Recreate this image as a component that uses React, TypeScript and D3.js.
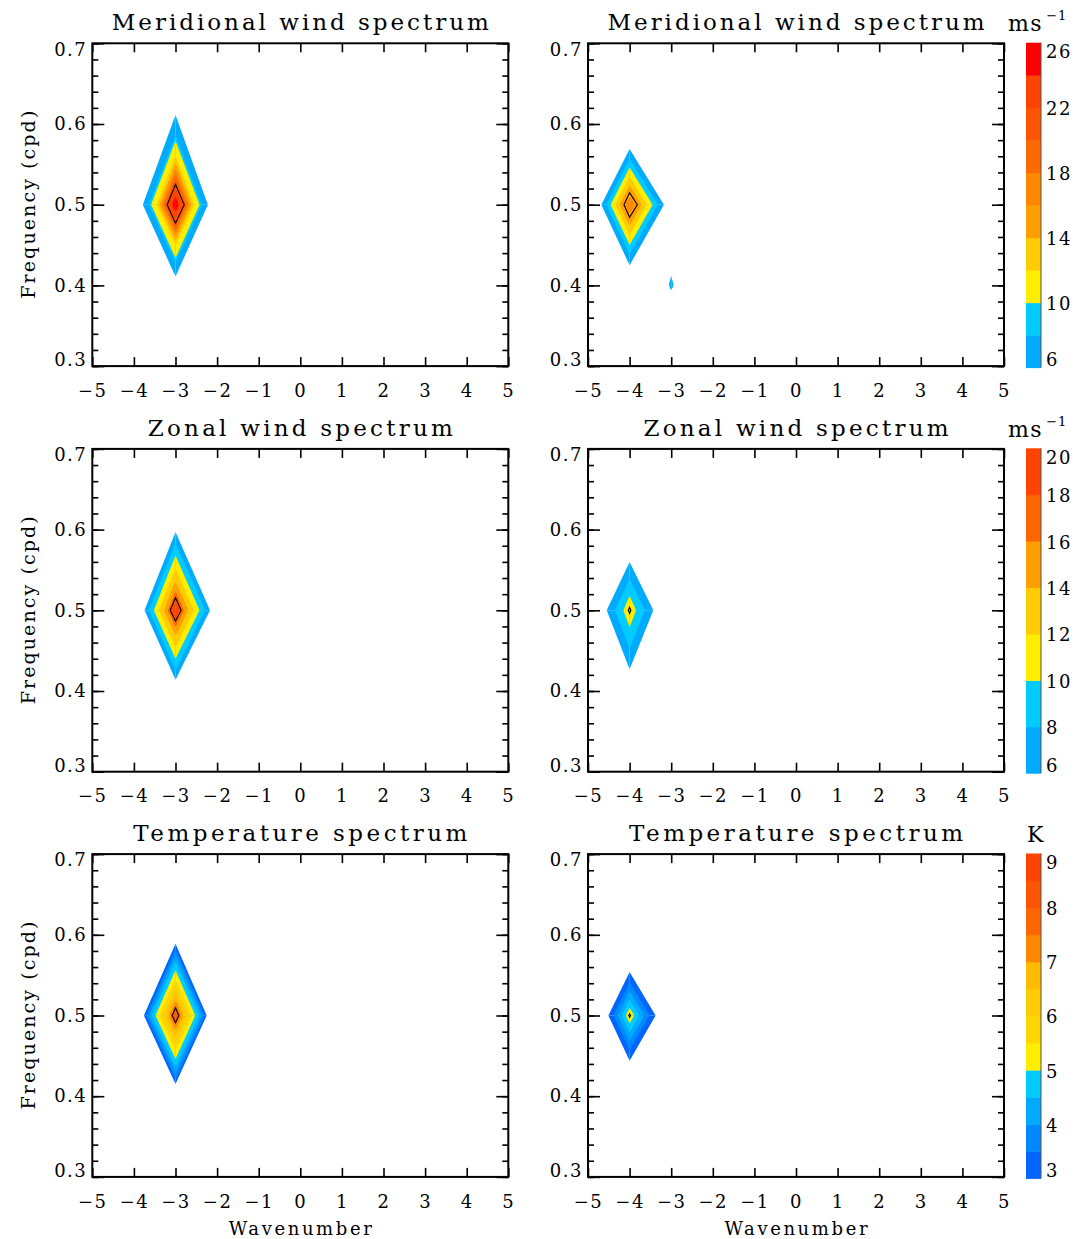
import React, { useEffect, useRef } from 'react';
import * as d3 from 'd3';

const WIDTH = 1087;
const HEIGHT = 1239;
const FONT = "'DejaVu Serif', 'Liberation Serif', serif";

// axis ticks
const wavenumberTicks = [-5, -4, -3, -2, -1, 0, 1, 2, 3, 4, 5];
const frequencyTicks = [0.3, 0.4, 0.5, 0.6, 0.7];

// colour bars: level edges (bottom -> top) and the band colours between them
const vLevels = [6, 8, 10, 12, 14, 16, 18, 20, 22, 24, 26];
const vColors = ['#00aaff', '#00ccff', '#ffee00', '#ffcc00', '#ffa000', '#ff8800', '#ff6a00', '#ff5500', '#ff4400', '#ff0000'];
const vLabels = [6, 10, 14, 18, 22, 26];

const uLevels = [6, 8, 10, 12, 14, 16, 18, 20];
const uColors = ['#00aaff', '#00ccff', '#ffee00', '#ffcc00', '#ffa000', '#ff6600', '#ff4400'];
const uLabels = [6, 8, 10, 12, 14, 16, 18, 20];

const tLevels = [3, 3.5, 4, 4.5, 5, 5.5, 6, 6.5, 7, 7.5, 8, 8.5, 9];
const tColors = ['#0066ff', '#0088ff', '#00aaff', '#00ccff', '#ffee00', '#ffd700', '#ffcc00', '#ffbb00', '#ff8800', '#ff6600', '#ff5500', '#ff4400'];
const tLabels = [3, 4, 5, 6, 7, 8, 9];

// contour reach from the spectral peak
// [level, west, east (wavenumber), north, south (cpd)]
const vLeft = [
  [6, 0.786, 0.778, 0.111, 0.089],
  [8, 0.64, 0.634, 0.086, 0.072],
  [10, 0.585, 0.579, 0.079, 0.066],
  [12, 0.45, 0.446, 0.061, 0.051],
  [14, 0.385, 0.381, 0.052, 0.0435],
  [16, 0.335, 0.332, 0.045, 0.038],
  [18, 0.29, 0.287, 0.039, 0.033],
  [20, 0.24, 0.238, 0.032, 0.027],
  [22, 0.16, 0.158, 0.0216, 0.018],
  [24, 0.08, 0.079, 0.0108, 0.009],
];
const vLeftLine = [0.2, 0.21, 0.025, 0.023];

const vRight = [
  [6, 0.68, 0.825, 0.069, 0.075],
  [8, 0.56, 0.678, 0.0566, 0.0616],
  [10, 0.457, 0.553, 0.046, 0.05],
  [12, 0.344, 0.416, 0.035, 0.038],
  [14, 0.24, 0.29, 0.024, 0.026],
  [16, 0.1, 0.121, 0.01, 0.011],
];
const vRightLine = [0.135, 0.185, 0.015, 0.0156];
// weak secondary peak at wavenumber -3, 0.4 cpd
const vRightSpot = [-3, 0.4, 6, 0.06, 0.06, 0.012, 0.006];

const uLeft = [
  [6, 0.745, 0.83, 0.097, 0.086],
  [8, 0.64, 0.71, 0.083, 0.074],
  [10, 0.52, 0.577, 0.068, 0.06],
  [12, 0.4, 0.444, 0.052, 0.046],
  [14, 0.28, 0.311, 0.036, 0.032],
  [16, 0.185, 0.205, 0.024, 0.021],
  [18, 0.1, 0.111, 0.013, 0.0115],
];
const uLeftLine = [0.127, 0.137, 0.0156, 0.0133];

const uRight = [
  [6, 0.55, 0.57, 0.06, 0.073],
  [8, 0.353, 0.367, 0.039, 0.047],
  [10, 0.151, 0.157, 0.018, 0.021],
];
const uRightLine = [0.03, 0.03, 0.0035, 0.004];

const tLeft = [
  [3, 0.76, 0.75, 0.089, 0.085],
  [3.5, 0.705, 0.698, 0.0825, 0.079],
  [4, 0.64, 0.634, 0.075, 0.0717],
  [4.5, 0.57, 0.564, 0.0667, 0.0638],
  [5, 0.48, 0.475, 0.0562, 0.0538],
  [5.5, 0.385, 0.381, 0.045, 0.0431],
  [6, 0.305, 0.302, 0.0357, 0.0342],
  [6.5, 0.225, 0.223, 0.0263, 0.0252],
  [7, 0.16, 0.158, 0.0187, 0.0179],
  [7.5, 0.105, 0.104, 0.0123, 0.0118],
  [8, 0.048, 0.0475, 0.0056, 0.0054],
];
const tLeftLine = [0.08, 0.08, 0.0095, 0.009];

const tRight = [
  [3, 0.51, 0.625, 0.054, 0.056],
  [3.5, 0.39, 0.476, 0.0413, 0.0429],
  [4, 0.29, 0.354, 0.0307, 0.0319],
  [4.5, 0.19, 0.232, 0.0201, 0.0209],
  [5, 0.09, 0.11, 0.0095, 0.0099],
];
const tRightLine = [0.02, 0.024, 0.0021, 0.0022];

const colorbars = [
  { levels: vLevels, colors: vColors, labels: vLabels, unit: 'ms', sup: '\u22121' },
  { levels: uLevels, colors: uColors, labels: uLabels, unit: 'ms', sup: '\u22121' },
  { levels: tLevels, colors: tColors, labels: tLabels, unit: 'K', sup: '' },
];

const panels = [
  { row: 0, col: 0, title: 'Meridional wind spectrum', peak: [-3, 0.5], contours: vLeft, line: vLeftLine, spots: [] },
  { row: 0, col: 1, title: 'Meridional wind spectrum', peak: [-4, 0.5], contours: vRight, line: vRightLine, spots: [vRightSpot] },
  { row: 1, col: 0, title: 'Zonal wind spectrum', peak: [-3, 0.5], contours: uLeft, line: uLeftLine, spots: [] },
  { row: 1, col: 1, title: 'Zonal wind spectrum', peak: [-4, 0.5], contours: uRight, line: uRightLine, spots: [] },
  { row: 2, col: 0, title: 'Temperature spectrum', peak: [-3, 0.5], contours: tLeft, line: tLeftLine, spots: [] },
  { row: 2, col: 1, title: 'Temperature spectrum', peak: [-4, 0.5], contours: tRight, line: tRightLine, spots: [] },
];

const titleWidths = { 'Meridional wind spectrum': 377, 'Zonal wind spectrum': 305, 'Temperature spectrum': 334 };

const App = () => {
  const svgRef = useRef(null);

  useEffect(() => {
    const svg = d3.select(svgRef.current);
    svg.selectAll('*').remove();

    svg.append('rect').attr('width', WIDTH).attr('height', HEIGHT).attr('fill', '#fff');

    const colLeft = [92.3, 588];
    const rowTop = [43.3, 448.9, 854.1];
    const plotW = 416;
    const plotH = 322.8;

    panels.forEach(p => {
      const x0 = colLeft[p.col];
      const y0 = rowTop[p.row];
      const x = d3.scaleLinear().domain([-5, 5]).range([x0, x0 + plotW]);
      const y = d3.scaleLinear().domain([0.3, 0.7]).range([y0 + plotH, y0]);
      const bar = colorbars[p.row];
      const g = svg.append('g');

      const poly = d3.line()
        .x(d => x(d[0]))
        .y(d => y(d[1]))
        .curve(d3.curveLinearClosed);
      const corners = (k, f, w, e, n, s) => [[k - w, f], [k, f + n], [k + e, f], [k, f - s]];

      // filled contour bands, outermost first; each drawn as four quadrant
      // triangles like the original cell-by-cell fill
      const fillDiamond = (k, f, w, e, n, s, color) => {
        const pts = corners(k, f, w, e, n, s);
        for (let q = 0; q < 4; q++) {
          g.append('path')
            .attr('d', poly([[k, f], pts[q], pts[(q + 1) % 4]]))
            .attr('fill', color);
        }
      };
      p.contours.forEach(([level, w, e, n, s]) => {
        fillDiamond(p.peak[0], p.peak[1], w, e, n, s, bar.colors[bar.levels.indexOf(level)]);
      });
      p.spots.forEach(([k, f, level, w, e, n, s]) => {
        fillDiamond(k, f, w, e, n, s, bar.colors[bar.levels.indexOf(level)]);
      });

      // black contour line
      const [lw, le, ln, ls] = p.line;
      g.append('path')
        .attr('d', poly(corners(p.peak[0], p.peak[1], lw, le, ln, ls)))
        .attr('fill', 'none')
        .attr('stroke', '#000')
        .attr('stroke-width', 1.1);

      // axes
      const styleAxis = sel => {
        sel.select('.domain').remove();
        sel.selectAll('line').attr('stroke', '#000').attr('stroke-width', 1.6);
        sel.attr('font-family', FONT).attr('font-size', 18);
        sel.selectAll('text').attr('fill', '#000').attr('letter-spacing', 1.5);
      };

      g.append('g')
        .attr('transform', `translate(0,${y(0.3)})`)
        .call(d3.axisBottom(x).tickValues(wavenumberTicks).tickSizeInner(-9).tickSizeOuter(0).tickPadding(18)
          .tickFormat(d => (d < 0 ? '\u2212' + Math.abs(d) : String(d))))
        .call(styleAxis);

      g.append('g')
        .attr('transform', `translate(0,${y(0.7)})`)
        .call(d3.axisTop(x).tickValues(wavenumberTicks).tickSizeInner(-9).tickSizeOuter(0).tickFormat(() => ''))
        .call(styleAxis);

      g.append('g')
        .attr('transform', `translate(${x(-5)},0)`)
        .call(d3.axisLeft(y).tickValues(frequencyTicks).tickSizeInner(-12).tickSizeOuter(0).tickPadding(5)
          .tickFormat(d3.format('.1f')))
        .call(styleAxis)
        .call(sel => sel.selectAll('text').attr('y', d => (d === 0.7 ? 6 : d === 0.3 ? -6 : 0)));

      g.append('g')
        .attr('transform', `translate(${x(-5)},0)`)
        .call(d3.axisLeft(y).tickValues(y.ticks(20)).tickSizeInner(-6).tickSizeOuter(0).tickFormat(() => ''))
        .call(styleAxis);

      g.append('g')
        .attr('transform', `translate(${x(5)},0)`)
        .call(d3.axisRight(y).tickValues(frequencyTicks).tickSizeInner(-12).tickSizeOuter(0).tickFormat(() => ''))
        .call(styleAxis);

      g.append('g')
        .attr('transform', `translate(${x(5)},0)`)
        .call(d3.axisRight(y).tickValues(y.ticks(20)).tickSizeInner(-6).tickSizeOuter(0).tickFormat(() => ''))
        .call(styleAxis);

      g.append('rect')
        .attr('x', x0)
        .attr('y', y0)
        .attr('width', plotW)
        .attr('height', plotH)
        .attr('fill', 'none')
        .attr('stroke', '#000')
        .attr('stroke-width', 2);

      // title
      g.append('text')
        .attr('x', x0 + plotW / 2)
        .attr('y', y0 - 13)
        .attr('text-anchor', 'middle')
        .attr('font-family', FONT)
        .attr('font-size', 23)
        .attr('textLength', titleWidths[p.title])
        .attr('lengthAdjust', 'spacing')
        .text(p.title);

      if (p.col === 0) {
        g.append('text')
          .attr('transform', `translate(35,${y(0.5)}) rotate(-90)`)
          .attr('text-anchor', 'middle')
          .attr('font-family', FONT)
          .attr('font-size', 19)
          .attr('textLength', 188)
          .attr('lengthAdjust', 'spacing')
          .text('Frequency (cpd)');
      }
      if (p.row === 2) {
        g.append('text')
          .attr('x', x0 + plotW / 2)
          .attr('y', y0 + plotH + 58)
          .attr('text-anchor', 'middle')
          .attr('font-family', FONT)
          .attr('font-size', 18)
          .attr('textLength', 143)
          .attr('lengthAdjust', 'spacing')
          .text('Wavenumber');
      }
    });

    // colour bars
    colorbars.forEach((bar, i) => {
      const top = rowTop[i] - 0.6;
      const bottom = rowTop[i] + plotH + 1.5;
      const lo = bar.levels[0];
      const hi = bar.levels[bar.levels.length - 1];
      const c = d3.scaleLinear().domain([lo, hi]).range([bottom, top]);
      const cx = 1026;
      const cw = 15;
      const g = svg.append('g');

      g.selectAll('rect')
        .data(bar.colors)
        .enter().append('rect')
        .attr('x', cx)
        .attr('y', (d, j) => c(bar.levels[j + 1]))
        .attr('width', cw)
        .attr('height', (d, j) => c(bar.levels[j]) - c(bar.levels[j + 1]) + 0.5)
        .attr('fill', d => d);

      g.append('line')
        .attr('x1', cx + cw).attr('x2', cx + cw)
        .attr('y1', top).attr('y2', bottom)
        .attr('stroke', '#555').attr('stroke-width', 1);

      g.selectAll('text.lab')
        .data(bar.labels)
        .enter().append('text')
        .attr('class', 'lab')
        .attr('x', 1046)
        .attr('y', d => {
          if (d === hi) return top + 9;
          if (d === lo) return bottom - 8;
          return c(d) + 1;
        })
        .attr('dy', '0.36em')
        .attr('font-family', FONT)
        .attr('font-size', 18)
        .attr('letter-spacing', 1.5)
        .text(d => String(d));

      const unit = g.append('text')
        .attr('x', bar.sup ? 1008 : 1027)
        .attr('y', rowTop[i] - 12)
        .attr('font-family', FONT)
        .attr('font-size', 22)
        .attr('letter-spacing', 1.5)
        .text(bar.unit);
      if (bar.sup) {
        unit.append('tspan')
          .attr('dx', 3)
          .attr('dy', -11)
          .attr('font-size', 13)
          .attr('letter-spacing', 1)
          .text(bar.sup);
      }
    });
  }, []);

  return (
    <svg
      ref={svgRef}
      width={WIDTH}
      height={HEIGHT}
      style={{ position: 'absolute', left: 0, top: 0 }}
    />
  );
};

export default App;
